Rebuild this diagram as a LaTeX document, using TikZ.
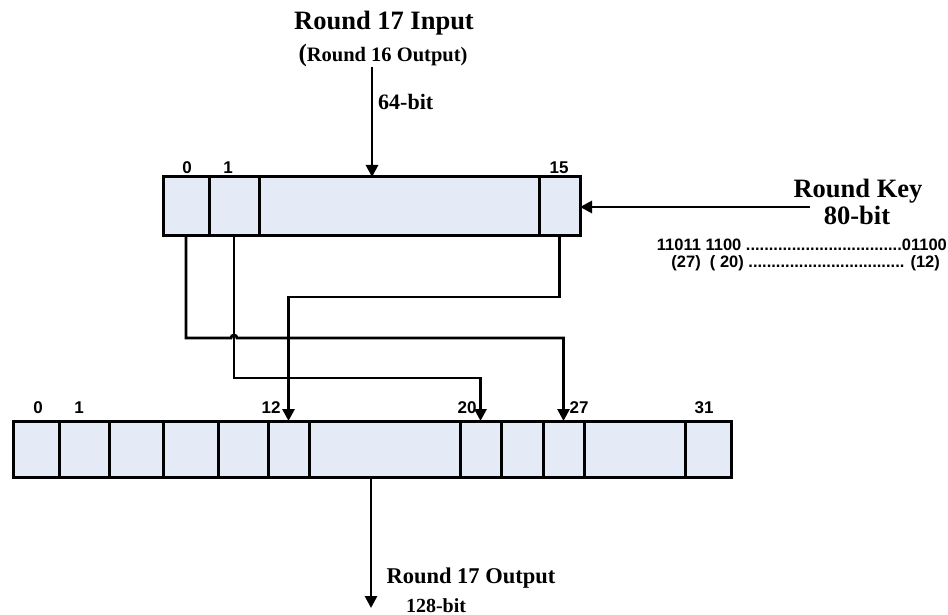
\documentclass[tikz,border=0pt]{standalone}
\usepackage{fontspec}
\setmainfont{Liberation Serif}
\setsansfont{Liberation Sans}
\usetikzlibrary{arrows.meta}
\definecolor{regfill}{RGB}{228,234,246}
\tikzset{
  cell/.style={draw, fill=regfill, line width=3pt, minimum height=56, inner sep=0pt, outer sep=0pt},
  wire/.style={line width=2.8pt},
  feed/.style={wire, -{Triangle[length=12pt,width=12pt]}},
  bitno/.style={font=\sffamily\bfseries\fontsize{17}{17}\selectfont, inner sep=0pt, anchor=base},
  keybits/.style={font=\sffamily\bfseries\fontsize{16.5}{16.5}\selectfont, inner sep=0pt, align=right},
  title/.style={font=\bfseries\fontsize{26.5}{26.5}\selectfont, inner sep=0pt, anchor=base},
}
\begin{document}
\begin{tikzpicture}[x=1pt,y=-1pt,line join=miter]
	\useasboundingbox (0,0) rectangle (948,615);
	
	% top register (64-bit)
	\foreach \l/\r/\n in {163/209/0,209/259/1,259/539/m,539/580/15}
		\node[cell, minimum width={\r-\l}, minimum height=58] (t\n) at ({(\l+\r)/2},206) {};
	\foreach \x/\n in {187/0,228/1,559/15}
		\node[bitno] (tl\n) at (\x,173) {\n};
	
	% bottom register (128-bit)
	\foreach \l/\r/\n in {13/59/0,59/109/1,109/163/2,163/218/3,218/268/4,268/309/12,309/460/m,460/501/20,501/543/21,543/584/27,584/685/n,685/731/31}
		\node[cell, minimum width={\r-\l}] (b\n) at ({(\l+\r)/2},449) {};
	\foreach \x/\n in {38/0,79/1,271/12,467/20,579/27,704/31}
		\node[bitno] (bl\n) at (\x,413) {\n};
	
	% input
	\node[title] (intitle) at (384,30) {Round 17 Input};
	\node[font=\bfseries\fontsize{20.5}{20.5}\selectfont, inner sep=0pt, anchor=base] (inprev) at (383,62) {{\fontsize{25}{25}\selectfont(}Round 16 Output)};
	\node[font=\bfseries\fontsize{22}{22}\selectfont, inner sep=0pt, anchor=base west] (inwidth) at (378,110) {64-bit};
	\coordinate (inTop) at (372,67);
	\draw[feed] (inTop) -- (inTop |- tm.north);
	
	% round key
	\node[title] (keytitle) at (858,197) {Round Key};
	\node[title] (keywidth) at (857,224) {80-bit};
	\node[keybits, anchor=north east] (keybits) at (947,239) {11011 1100 ..................................01100\\(27)\ \ ( 20) .................................. (12)\hspace*{7pt}};
	\coordinate (keyEnd) at (810,207);
	\draw[feed] (keyEnd) -- (keyEnd -| t15.east);
	
	% bit moves
	\draw[feed] (t0.south) -- ++(0,103) -- (231,338) arc[start angle=180, end angle=360, radius=3] -| (b27.north);
	\draw[feed] (t1.south) -- ++(0,143) -| (b20.north);
	\draw[feed] (t15.south) -- ++(0,62) -| (b12.north);
	
	% output
	\coordinate (outEnd) at (371,608);
	\draw[feed] (outEnd |- bm.south) -- (outEnd);
	\node[font=\bfseries\fontsize{22.5}{22.5}\selectfont, inner sep=0pt, anchor=base] (outtitle) at (471,583) {Round 17 Output};
	\node[font=\bfseries\fontsize{20}{20}\selectfont, inner sep=0pt, anchor=base] (outwidth) at (436,612) {128-bit};
\end{tikzpicture}
\end{document}
